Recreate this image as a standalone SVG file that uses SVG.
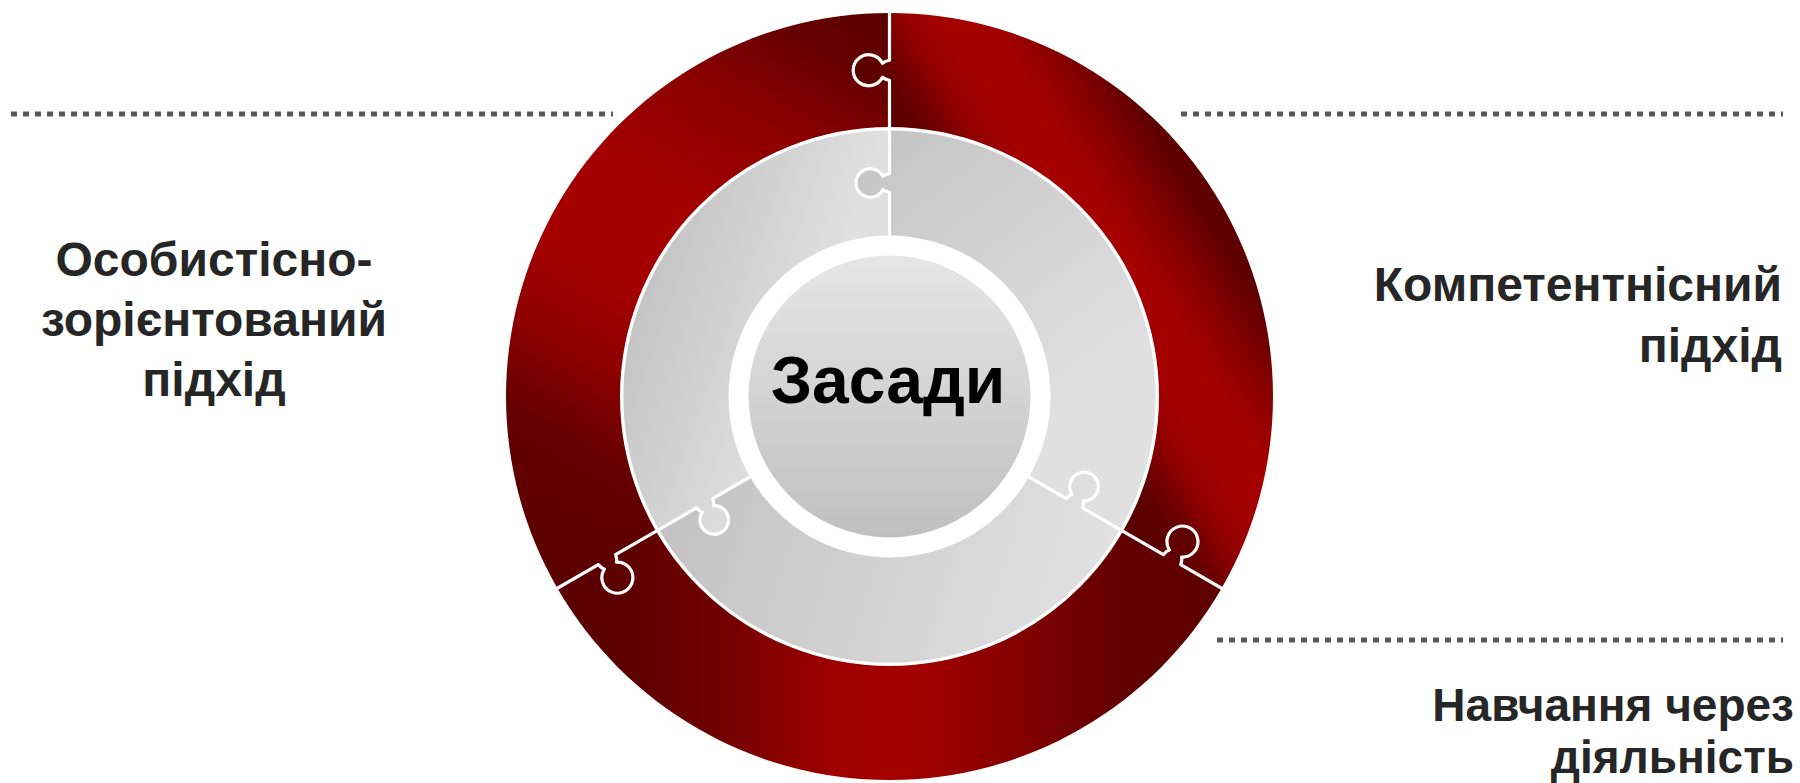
<svg xmlns="http://www.w3.org/2000/svg" width="1800" height="783" viewBox="0 0 1800 783">
<style>
.lbl{font-family:"Liberation Sans",Arial,sans-serif;font-weight:bold;font-size:48px;fill:#262626}
.ttl{font-family:"Liberation Sans",Arial,sans-serif;font-weight:bold;font-size:66px;fill:#000}
.dot{stroke:#595959;stroke-width:5;stroke-dasharray:6 6;fill:none}
.seam{fill:none;stroke:#fff;stroke-width:3.2;stroke-linejoin:round}
</style>
<defs>
<linearGradient id="rR" gradientUnits="userSpaceOnUse" x1="957.5" y1="229.3" x2="1144.5" y2="112.7">
<stop offset="0" stop-color="#5a0000"/><stop offset="0.12" stop-color="#640000"/><stop offset="0.3" stop-color="#940000"/><stop offset="0.45" stop-color="#a50000"/><stop offset="0.62" stop-color="#a40000"/><stop offset="0.8" stop-color="#880000"/><stop offset="1" stop-color="#5e0000"/>
</linearGradient>
<linearGradient id="rL" gradientUnits="userSpaceOnUse" x1="557.4" y1="588.25" x2="889.5" y2="13">
<stop offset="0" stop-color="#5a0000"/><stop offset="0.2" stop-color="#640000"/><stop offset="0.32" stop-color="#8c0000"/><stop offset="0.45" stop-color="#a40000"/><stop offset="0.6" stop-color="#a40000"/><stop offset="0.78" stop-color="#880000"/><stop offset="0.9" stop-color="#660000"/><stop offset="1" stop-color="#5a0000"/>
</linearGradient>
<linearGradient id="rB" gradientUnits="userSpaceOnUse" x1="1221.6" y1="600" x2="557.4" y2="600">
<stop offset="0" stop-color="#5e0000"/><stop offset="0.15" stop-color="#620000"/><stop offset="0.32" stop-color="#860000"/><stop offset="0.47" stop-color="#a40000"/><stop offset="0.58" stop-color="#a00000"/><stop offset="0.75" stop-color="#720000"/><stop offset="0.9" stop-color="#5c0000"/><stop offset="1" stop-color="#5a0000"/>
</linearGradient>
<linearGradient id="gR" gradientUnits="userSpaceOnUse" x1="900" y1="140" x2="1090" y2="390">
<stop offset="0" stop-color="#c6c6c6"/><stop offset="1" stop-color="#e0e0e0"/>
</linearGradient>
<linearGradient id="gB" gradientUnits="userSpaceOnUse" x1="690" y1="520" x2="1080" y2="640">
<stop offset="0" stop-color="#c4c4c4"/><stop offset="1" stop-color="#e1e1e1"/>
</linearGradient>
<linearGradient id="gL" gradientUnits="userSpaceOnUse" x1="615" y1="360" x2="785" y2="420">
<stop offset="0" stop-color="#c4c4c4"/><stop offset="1" stop-color="#e0e0e0"/>
</linearGradient>
<linearGradient id="gC" x1="0" y1="0" x2="0" y2="1">
<stop offset="0" stop-color="#e6e6e6"/><stop offset="1" stop-color="#c0c0c0"/>
</linearGradient>
<path id="redTab" d="M 1205.75 399.5 L 1205.75 396.5 Q 1206.75 391.5 1208.75 389.5 A 15.5 15.5 0 1 1 1222.75 389.5 Q 1224.75 391.5 1225.75 396.5 L 1225.75 399.5 Z"/>
<path id="grayTab" d="M 1093.7 399.5 L 1093.7 396.5 Q 1094.7 391.5 1096.5 390 A 14.3 14.3 0 1 1 1109.5 390 Q 1111.3 391.5 1112.3 396.5 L 1112.3 399.5 Z"/>
<path id="seam" d="M 1048 396.5 L 1093.7 396.5 Q 1094.7 391.5 1096.5 390 A 14.3 14.3 0 1 1 1109.5 390 Q 1111.3 391.5 1112.3 396.5 L 1205.75 396.5 Q 1206.75 391.5 1208.75 389.5 A 15.5 15.5 0 1 1 1222.75 389.5 Q 1224.75 391.5 1225.75 396.5 L 1276 396.5"/>
<clipPath id="cRT"><use href="#redTab" transform="rotate(-90 889.5 396.5)"/></clipPath>
<clipPath id="cRB"><use href="#redTab" transform="rotate(30 889.5 396.5)"/></clipPath>
<clipPath id="cRL"><use href="#redTab" transform="rotate(150 889.5 396.5)"/></clipPath>
<clipPath id="cGT"><use href="#grayTab" transform="rotate(-90 889.5 396.5)"/></clipPath>
<clipPath id="cGB"><use href="#grayTab" transform="rotate(30 889.5 396.5)"/></clipPath>
<clipPath id="cGL"><use href="#grayTab" transform="rotate(150 889.5 396.5)"/></clipPath>
</defs>

<g id="outer-right">
<path d="M 889.5 13 A 383.5 383.5 0 0 1 1221.62 588.25 L 1121.59 530.5 A 268 268 0 0 0 889.5 128.5 Z" fill="url(#rR)"/>
</g>
<g id="outer-bottom">
<path d="M 1221.62 588.25 A 383.5 383.5 0 0 1 557.38 588.25 L 657.41 530.5 A 268 268 0 0 0 1121.59 530.5 Z" fill="url(#rB)"/>
</g>
<g id="outer-left">
<path d="M 557.38 588.25 A 383.5 383.5 0 0 1 889.5 13 L 889.5 128.5 A 268 268 0 0 0 657.41 530.5 Z" fill="url(#rL)"/>
</g>
<g id="middle-right">
<path d="M 889.5 129.5 A 267 267 0 0 1 1120.73 530 L 1028.93 477 A 161 161 0 0 0 889.5 235.5 Z" fill="url(#gR)"/>
</g>
<g id="middle-bottom">
<path d="M 1120.73 530 A 267 267 0 0 1 658.27 530 L 750.07 477 A 161 161 0 0 0 1028.93 477 Z" fill="url(#gB)"/>
</g>
<g id="middle-left">
<path d="M 658.27 530 A 267 267 0 0 1 889.5 129.5 L 889.5 235.5 A 161 161 0 0 0 750.07 477 Z" fill="url(#gL)"/>
</g>
<g id="tabs">
<rect width="1800" height="783" fill="url(#rR)" clip-path="url(#cRT)"/>
<rect width="1800" height="783" fill="url(#rB)" clip-path="url(#cRB)"/>
<rect width="1800" height="783" fill="url(#rL)" clip-path="url(#cRL)"/>
<rect width="1800" height="783" fill="url(#gR)" clip-path="url(#cGT)"/>
<rect width="1800" height="783" fill="url(#gB)" clip-path="url(#cGB)"/>
<rect width="1800" height="783" fill="url(#gL)" clip-path="url(#cGL)"/>
</g>
<g id="seams">
<circle cx="889.5" cy="396.5" r="267.8" fill="none" stroke="#fff" stroke-width="3.4"/>
<use href="#seam" class="seam" transform="rotate(-90 889.5 396.5)"/>
<use href="#seam" class="seam" transform="rotate(30 889.5 396.5)"/>
<use href="#seam" class="seam" transform="rotate(150 889.5 396.5)"/>
</g>
<g id="center">
<circle cx="889.5" cy="396.5" r="141" fill="url(#gC)"/>
<text class="ttl" x="888" y="403" text-anchor="middle">Засади</text>
</g>

<g id="connectors">
<line class="dot" x1="11" y1="114" x2="613" y2="114"/>
<line class="dot" x1="1181" y1="114" x2="1783" y2="114"/>
<line class="dot" x1="1217" y1="640" x2="1783" y2="640"/>
</g>

<g id="label-left">
<text class="lbl" text-anchor="middle"><tspan x="214" y="276">Особистісно-</tspan><tspan x="214" y="336">зорієнтований</tspan><tspan x="214" y="396">підхід</tspan></text>
</g>
<g id="label-right">
<text class="lbl" text-anchor="end"><tspan x="1782" y="301">Компетентнісний</tspan><tspan x="1782" y="362">підхід</tspan></text>
</g>
<g id="label-bottom">
<text class="lbl" text-anchor="end" style="font-size:46px"><tspan x="1794" y="721">Навчання через</tspan><tspan x="1794" y="773">діяльність</tspan></text>
</g>
</svg>
